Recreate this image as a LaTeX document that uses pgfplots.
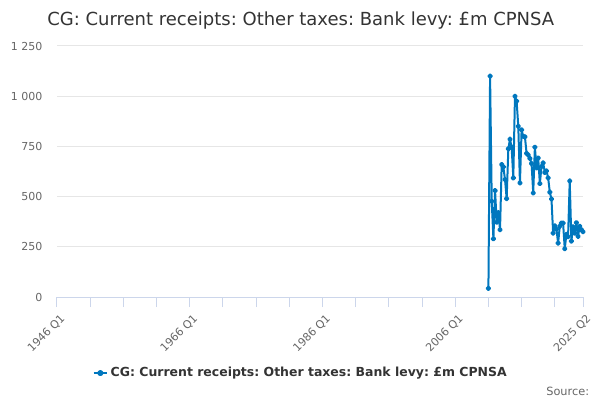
\documentclass[border=0pt]{standalone}
\usepackage{fontspec}
\setmainfont{DejaVu Sans}
\usepackage{pgfplots}
\pgfplotsset{compat=1.18}
\frenchspacing
\definecolor{ons}{RGB}{0,119,190}
\definecolor{axl}{RGB}{204,214,235}
\definecolor{grd}{RGB}{230,230,230}
\definecolor{tit}{RGB}{51,51,51}
\definecolor{lab}{RGB}{102,102,102}
\tikzset{xlabl/.style={rotate=45, anchor=north east, inner sep=0pt, text=lab, font=\fontsize{8.25}{10}\selectfont}}
\pgfplotstableread{
x y
260 43
261 1100
262 477
263 290
264 530
265 372
266 420
267 335
268 660
269 648
270 585
271 490
272 738
273 786
274 745
275 593
276 1000
277 975
278 850
279 568
280 832
281 800
282 798
283 715
284 707
285 690
286 665
287 518
288 746
289 643
290 692
291 565
292 650
293 668
294 620
295 628
296 593
297 522
298 488
299 318
300 355
301 338
302 268
303 352
304 368
305 368
306 240
307 312
308 300
309 578
310 278
311 350
312 318
313 370
314 302
315 352
316 335
317 325
}\levy
\begin{document}
\frenchspacing
\begin{tikzpicture}[x=1pt,y=1pt]
\path[use as bounding box] (0,0) rectangle (450,300);
\node[anchor=base west, text=tit, font=\fontsize{13.5}{16}\selectfont, inner sep=0pt] at (35.25,281) {CG: Current receipts: Other taxes: Bank levy: £m CPNSA};
\begin{axis}[
  at={(42.75pt,77.25pt)}, anchor=south west,
  scale only axis, width=394.5pt, height=188.25pt,
  xmin=0, xmax=317, ymin=0, ymax=1250,
  axis x line*=bottom, axis y line*=left,
  x axis line style={axl, line width=0.75pt, -},
  y axis line style={draw=none},
  ytick={0,250,500,750,1000,1250},
  yticklabels={0,250,500,750,1 000,1 250},
  ymajorgrids, grid style={grd, line width=0.75pt},
  ytick style={draw=none},
  xtick={0,80,160,240,317},
  xticklabels={},
  minor xtick={20,40,60,100,120,140,180,200,220,260,280,300},
  xtick style={axl, line width=0.75pt},
  minor x tick style={axl, line width=0.75pt},
  tick align=outside, major tick length=7.5pt, minor tick length=7.5pt,
  yticklabel style={text=lab, font=\fontsize{8.25}{10}\selectfont},
  /pgf/number format/assume math mode=true,
  legend style={at={(0.464,-0.303)}, anchor=center, draw=none, fill=none,
    font=\bfseries\fontsize{9.35}{11}\selectfont, text=tit},
  legend image code/.code={\draw[ons, line width=1.5pt] (0pt,0pt) -- (10pt,0pt); \fill[ons] (5pt,0pt) circle (1.5pt);},
  clip=false,
]
\addplot[ons, line width=1.5pt, mark=*, mark size=1.3pt, line join=round] table[x=x,y=y] {\levy};
\addlegendentry{CG: Current receipts: Other taxes: Bank levy: £m CPNSA}
\node[xlabl] at ([xshift=2pt,yshift=-12pt]axis cs:0,0) {1946 Q1};
\node[xlabl] at ([xshift=2pt,yshift=-12pt]axis cs:80,0) {1966 Q1};
\node[xlabl] at ([xshift=2pt,yshift=-12pt]axis cs:160,0) {1986 Q1};
\node[xlabl] at ([xshift=2pt,yshift=-12pt]axis cs:240,0) {2006 Q1};
\node[xlabl] at ([xshift=2pt,yshift=-12pt]axis cs:317,0) {2025 Q2};
\end{axis}
\node[anchor=base east, text=lab, font=\fontsize{8.5}{10}\selectfont, inner sep=0pt] at (442,3.5) {Source:};
\end{tikzpicture}
\end{document}
